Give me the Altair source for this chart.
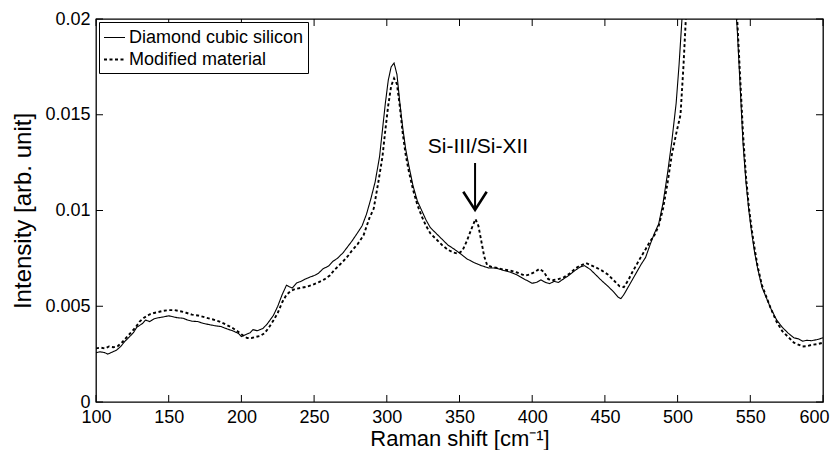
import altair as alt
import pandas as pd

# ---- data ----
series_names = ["Diamond cubic silicon", "Modified material"]

x_solid = [100,103,106,108,111,114,117,120,123,126,128,130,132,134,137,140,143,146,150,153,156,160,163,166,170,174,178,182,186,190,194,198,200,203,206,208,211,215,218,222,225,228,231,233,235,238,241,244,247,250,253,256,260,263,266,270,273,276,280,283,286,289,292,295,297,299,301,303,305,307,309,311,313,315,318,321,324,327,330,334,338,342,346,350,355,360,365,370,375,380,385,390,395,400,403,406,409,412,415,418,421,425,430,433,436,440,444,448,452,456,459,461,463,466,469,472,475,478,481,484,487,490,493,496,499,501,503,505,510,520,530,538,540,541,543,545,547,549,551,553,555,558,561,564,568,572,576,580,583,586,589,592,596,600]
y_solid = [0.00258,0.00262,0.00258,0.00250,0.00260,0.00270,0.00290,0.00318,0.00340,0.00365,0.00390,0.00400,0.00410,0.00428,0.00420,0.00435,0.00440,0.00444,0.00450,0.00445,0.00440,0.00437,0.00428,0.00422,0.00420,0.00410,0.00404,0.00398,0.00394,0.00382,0.00372,0.00358,0.00342,0.00352,0.00362,0.00378,0.00372,0.00385,0.00410,0.00452,0.00500,0.00560,0.00610,0.00602,0.00595,0.00622,0.00630,0.00642,0.00652,0.00660,0.00672,0.00695,0.00710,0.00735,0.00750,0.00780,0.00810,0.00840,0.00885,0.00920,0.00980,0.01060,0.01150,0.01280,0.01420,0.01560,0.01680,0.01750,0.01770,0.01710,0.01560,0.01430,0.01320,0.01240,0.01130,0.01050,0.01000,0.00950,0.00910,0.00880,0.00850,0.00820,0.00800,0.00778,0.00748,0.00728,0.00712,0.00700,0.00700,0.00688,0.00678,0.00662,0.00640,0.00620,0.00625,0.00638,0.00625,0.00618,0.00630,0.00624,0.00640,0.00660,0.00690,0.00705,0.00712,0.00692,0.00662,0.00632,0.00605,0.00575,0.00548,0.00540,0.00560,0.00600,0.00640,0.00680,0.00720,0.00755,0.00820,0.00880,0.00930,0.01040,0.01190,0.01360,0.01560,0.01760,0.02000,0.02300,0.03500,0.07000,0.03500,0.02250,0.02050,0.01950,0.01650,0.01350,0.01150,0.01000,0.00880,0.00780,0.00700,0.00600,0.00545,0.00490,0.00430,0.00390,0.00360,0.00335,0.00330,0.00318,0.00322,0.00320,0.00326,0.00335]

x_mod = [100,103,106,109,112,115,118,121,124,127,130,133,137,140,143,146,150,154,158,162,166,170,175,180,185,190,194,198,201,204,207,210,213,216,219,222,225,228,231,234,237,241,245,249,253,257,261,264,267,270,273,276,280,284,288,291,294,297,299,301,303,305,307,309,311,313,315,318,321,324,327,330,334,338,342,346,349,352,355,358,361,363,365,367,369,372,376,380,385,390,395,398,402,405,408,411,414,418,422,426,430,434,437,440,444,448,452,456,460,463,466,469,472,475,478,481,484,487,490,493,496,499,502,504,506,510,520,530,538,540,541,543,545,547,549,551,553,555,558,561,564,568,572,576,580,583,586,589,592,596,600]
y_mod = [0.00280,0.00284,0.00280,0.00290,0.00286,0.00292,0.00312,0.00338,0.00362,0.00388,0.00420,0.00440,0.00458,0.00465,0.00470,0.00476,0.00480,0.00480,0.00474,0.00466,0.00456,0.00452,0.00442,0.00432,0.00420,0.00402,0.00386,0.00366,0.00348,0.00334,0.00334,0.00340,0.00345,0.00360,0.00390,0.00425,0.00465,0.00520,0.00560,0.00580,0.00590,0.00596,0.00602,0.00612,0.00625,0.00640,0.00662,0.00690,0.00712,0.00735,0.00760,0.00790,0.00825,0.00870,0.00960,0.01010,0.01140,0.01280,0.01420,0.01550,0.01650,0.01690,0.01660,0.01540,0.01400,0.01290,0.01210,0.01110,0.01030,0.00970,0.00920,0.00880,0.00850,0.00820,0.00795,0.00780,0.00775,0.00790,0.00840,0.00900,0.00955,0.00920,0.00840,0.00760,0.00715,0.00705,0.00700,0.00692,0.00686,0.00675,0.00660,0.00665,0.00680,0.00695,0.00680,0.00642,0.00636,0.00642,0.00652,0.00672,0.00700,0.00715,0.00725,0.00716,0.00702,0.00686,0.00666,0.00636,0.00605,0.00600,0.00635,0.00680,0.00720,0.00760,0.00798,0.00838,0.00870,0.00920,0.01010,0.01140,0.01290,0.01400,0.01500,0.01750,0.02050,0.03200,0.07000,0.03500,0.02350,0.02120,0.02000,0.01700,0.01400,0.01180,0.01020,0.00900,0.00800,0.00710,0.00610,0.00550,0.00490,0.00420,0.00370,0.00340,0.00310,0.00300,0.00290,0.00292,0.00298,0.00302,0.00310]

x_ticks = [100, 150, 200, 250, 300, 350, 400, 450, 500, 550, 600]
y_ticks = [0, 0.005, 0.01, 0.015, 0.02]

note_text = ["Si-III/Si-XII"]
note_x = [362.7]
note_y = [0.01332]
shaft_x = [360.7, 360.7]
shaft_y = [0.01248, 0.01003]
head_x = [352.6, 360.7, 368.7]
head_y = [0.01098, 0.01003, 0.01098]

# ---- tables ----
df = pd.concat([
    pd.DataFrame({"x": x_solid, "y": y_solid, "series": series_names[0]}),
    pd.DataFrame({"x": x_mod, "y": y_mod, "series": series_names[1]}),
])
xt = pd.DataFrame({"x": x_ticks})
yt = pd.DataFrame({"y": y_ticks})
note_df = pd.DataFrame({"x": note_x, "y": note_y, "t": note_text})
shaft_df = pd.DataFrame({"x": shaft_x, "y": shaft_y, "o": [0, 1]})
head_df = pd.DataFrame({"x": head_x, "y": head_y, "o": [0, 1, 2]})

W, H = 727, 383
FONT = "Liberation Sans"
xscale = alt.Scale(domain=[100, 600], nice=False, zero=False)
yscale = alt.Scale(domain=[0, 0.02], nice=False)

xaxis = alt.Axis(values=x_ticks, ticks=False, domain=False, grid=False,
                 labelFlush=False, labelOverlap=False,
                 labelOffset={"condition": {"test": "datum.value == 600", "value": -9}, "value": 0},
                 labelFontSize=18, labelPadding=6, labelColor="black",
                 title="Raman shift [cm⁻¹]", titleFontSize=22,
                 titleFontWeight="normal", titleColor="black",
                 titleBaseline="alphabetic", titleY=43)
yaxis = alt.Axis(values=y_ticks, ticks=False, domain=False, grid=False,
                 labelFlush=False, labelOverlap=False,
                 labelFontSize=18, labelPadding=6, labelColor="black",
                 labelExpr="datum.value == 0 ? '0' : format(datum.value, '~g')",
                 title="Intensity [arb. unit]", titleFontSize=24,
                 titleFontWeight="normal", titleColor="black", titlePadding=9)

X = alt.X("x:Q", scale=xscale, axis=xaxis)
Y = alt.Y("y:Q", scale=yscale, axis=yaxis)

lines = alt.Chart(df).mark_line(clip=True, color="black").encode(
    x=X, y=Y,
    strokeDash=alt.StrokeDash(
        "series:N",
        scale=alt.Scale(domain=series_names, range=[[1, 0], [3, 2.5]]),
        legend=alt.Legend(
            title=None, orient="none", legendX=3, legendY=3,
            fillColor="white", strokeColor="black", padding=4,
            labelFontSize=18, labelFont=FONT, labelColor="black",
            symbolType="stroke", symbolSize=441, symbolStrokeWidth=1.2,
            symbolStrokeColor="black", labelOffset=3, rowPadding=1,
            labelLimit=400,
        ),
    ),
    strokeWidth=alt.StrokeWidth(
        "series:N",
        scale=alt.Scale(domain=series_names, range=[1.1, 1.9]),
        legend=None,
    ),
)

tick_bottom = alt.Chart(xt).mark_rule(color="black", strokeWidth=1).encode(
    x=X, y=alt.value(H), y2=alt.value(H - 7))
tick_top = alt.Chart(xt).mark_rule(color="black", strokeWidth=1).encode(
    x=X, y=alt.value(0), y2=alt.value(7))
tick_left = alt.Chart(yt).mark_rule(color="black", strokeWidth=1).encode(
    y=Y, x=alt.value(0), x2=alt.value(7))
tick_right = alt.Chart(yt).mark_rule(color="black", strokeWidth=1).encode(
    y=Y, x=alt.value(W), x2=alt.value(W - 7))

note = alt.Chart(note_df).mark_text(font=FONT, fontSize=21, color="black",
                                    align="center", baseline="middle").encode(
    x=X, y=Y, text="t:N")
shaft = alt.Chart(shaft_df).mark_line(color="black", strokeWidth=2).encode(
    x=X, y=Y, order="o:Q")
head = alt.Chart(head_df).mark_line(color="black", strokeWidth=2.6).encode(
    x=X, y=Y, order="o:Q")

chart = alt.layer(
    lines, tick_bottom, tick_top, tick_left, tick_right, note, shaft, head
).properties(
    width=W, height=H, autosize="none",
    padding={"left": 88, "top": 11, "right": 7, "bottom": 48},
).configure(font=FONT).configure_view(
    stroke="black", strokeWidth=1.3
).configure_axis(labelFont=FONT, titleFont=FONT)

chart.save("out.html", embed_options={"renderer": "svg", "actions": False})
